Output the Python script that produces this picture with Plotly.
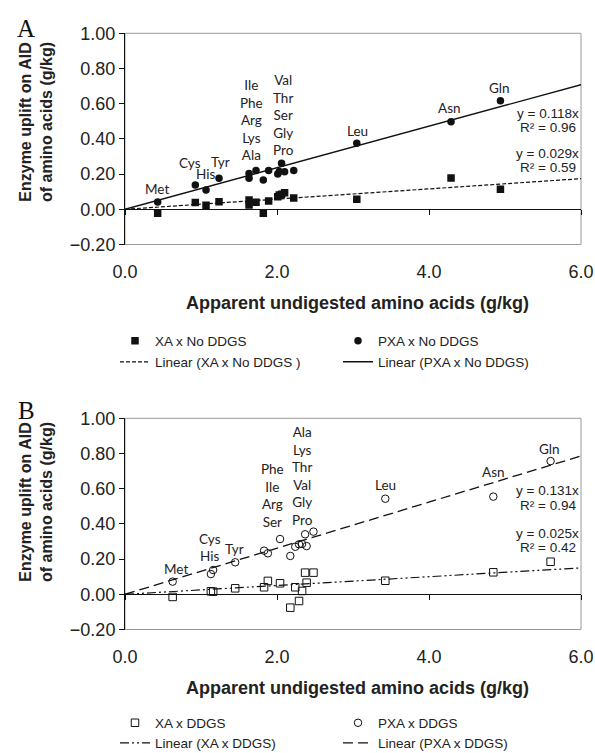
import plotly.graph_objects as go

# ---------------- DATA ----------------
# Panel A (No DDGS): apparent undigested amino acids (g/kg) and enzyme uplift (g/kg)
aa_x_A = [0.43, 0.925, 1.066, 1.237, 1.632, 1.632, 1.724, 1.82, 1.89, 2.01, 2.03, 2.06, 2.10, 2.22, 3.05, 4.29, 4.94]
xa_y_A = [-0.023, 0.038, 0.023, 0.043, 0.053, 0.024, 0.040, -0.023, 0.047, 0.072, 0.081, 0.085, 0.094, 0.064, 0.057, 0.178, 0.114]
pxa_y_A = [0.041, 0.138, 0.110, 0.176, 0.204, 0.176, 0.221, 0.166, 0.221, 0.200, 0.215, 0.261, 0.214, 0.221, 0.375, 0.498, 0.617]

# Panel B (DDGS)
aa_x_B = [0.627, 1.13, 1.16, 1.45, 1.83, 1.88, 2.04, 2.175, 2.24, 2.29, 2.33, 2.37, 2.39, 2.48, 3.425, 4.846, 5.60]
xa_y_B = [-0.015, 0.017, 0.015, 0.034, 0.040, 0.076, 0.0625, -0.076, 0.040, -0.038, 0.019, 0.123, 0.066, 0.123, 0.077, 0.125, 0.185]
pxa_y_B = [0.072, 0.115, 0.138, 0.182, 0.248, 0.233, 0.314, 0.218, 0.270, 0.284, 0.286, 0.341, 0.274, 0.356, 0.543, 0.555, 0.757]

# Linear trends through origin
slope_xa_A, r2_xa_A = 0.029, 0.59
slope_pxa_A, r2_pxa_A = 0.118, 0.96
slope_xa_B, r2_xa_B = 0.025, 0.42
slope_pxa_B, r2_pxa_B = 0.131, 0.94

# Point labels (amino acid names)
labels_A = ["Met", "Cys", "His", "Tyr", "Ile<br>Phe<br>Arg<br>Lys<br>Ala",
            "Val<br>Thr<br>Ser<br>Gly<br>Pro", "Leu", "Asn", "Gln"]
labels_B = ["Met", "Cys", "His", "Tyr", "Phe<br>Ile<br>Arg<br>Ser",
            "Ala<br>Lys<br>Thr<br>Val<br>Gly<br>Pro", "Leu", "Asn", "Gln"]

x_ticks = [0.0, 2.0, 4.0, 6.0]
y_ticks = [-0.2, 0.0, 0.2, 0.4, 0.6, 0.8, 1.0]
x_range = [0.0, 6.0]
y_range = [-0.2, 1.0]

# ---------------- LAYOUT (positions / styles) ----------------
W, H = 595, 753
PL, PR = 125, 581
A_TOP, A_BOT = 33.3, 244.5
B_TOP, B_BOT = 418.3, 629.5

# label anchor positions in data units (layout only)
lab_pos_A = [(0.417, 0.114), (0.855, 0.265), (1.057, 0.200), (1.259, 0.267), (1.658, 0.510),
             (2.083, 0.537), (3.053, 0.445), (4.276, 0.574), (4.925, 0.691)]
lab_pos_B = [(0.671, 0.144), (1.118, 0.316), (1.118, 0.219), (1.447, 0.257), (1.938, 0.560),
             (2.329, 0.670), (3.425, 0.619), (4.846, 0.697), (5.592, 0.824)]

def px(x):
    return x / W

def py(y):
    return 1 - y / H

def ydom(top, bot):
    return [py(bot), py(top)]

xdom = [px(PL), px(PR)]
ydA = ydom(A_TOP, A_BOT)
ydB = ydom(B_TOP, B_BOT)

def zero_pos(dom):
    return dom[0] + (0 - y_range[0]) / (y_range[1] - y_range[0]) * (dom[1] - dom[0])

BLACK = "#111111"
LABEL_FONT = dict(family="Lato, Carlito, Calibri, sans-serif", size=13.5, color="#222222")
EQ_FONT = dict(family="Liberation Sans, Arial, sans-serif", size=13.5, color="#222222")
TICK_FONT = dict(family="Liberation Sans, Arial, sans-serif", size=18, color="#222222")
TITLE_FONT = dict(family="Liberation Sans, Arial, sans-serif", size=18, color="#222222", weight="bold")
YTITLE_FONT = dict(family="Liberation Sans, Arial, sans-serif", size=16, color="#222222", weight="bold")
LEG_FONT = dict(family="Liberation Sans, Arial, sans-serif", size=13.5, color="#222222")

fig = go.Figure()

def trend(slope):
    return [slope * v for v in x_range]

# Panel A traces
fig.add_trace(go.Scatter(x=x_range, y=trend(slope_xa_A), mode="lines", name="Linear (XA x No DDGS )",
                         line=dict(color=BLACK, width=1.2, dash="4px,2px"), legend="legend2",
                         xaxis="x", yaxis="y", hoverinfo="skip"))
fig.add_trace(go.Scatter(x=x_range, y=trend(slope_pxa_A), mode="lines", name="Linear (PXA x No DDGS)",
                         line=dict(color=BLACK, width=1.4), legend="legend2",
                         xaxis="x", yaxis="y", hoverinfo="skip"))
fig.add_trace(go.Scatter(x=aa_x_A, y=xa_y_A, mode="markers", name="XA x No DDGS",
                         marker=dict(symbol="square", size=7.5, color=BLACK), legend="legend",
                         xaxis="x", yaxis="y"))
fig.add_trace(go.Scatter(x=aa_x_A, y=pxa_y_A, mode="markers", name="PXA x No DDGS",
                         marker=dict(symbol="circle", size=7.5, color=BLACK), legend="legend",
                         xaxis="x", yaxis="y"))

# Panel B traces
fig.add_trace(go.Scatter(x=x_range, y=trend(slope_xa_B), mode="lines", name="Linear (XA x DDGS)",
                         line=dict(color=BLACK, width=1.2, dash="9px,3px,2px,3px,2px,3px"), legend="legend4",
                         xaxis="x2", yaxis="y2", hoverinfo="skip"))
fig.add_trace(go.Scatter(x=x_range, y=trend(slope_pxa_B), mode="lines", name="Linear (PXA x DDGS)",
                         line=dict(color=BLACK, width=1.3, dash="10px,5px"), legend="legend4",
                         xaxis="x2", yaxis="y2", hoverinfo="skip"))
fig.add_trace(go.Scatter(x=aa_x_B, y=xa_y_B, mode="markers", name="XA x DDGS",
                         marker=dict(symbol="square-open", size=7.5, color=BLACK, line=dict(width=1)),
                         legend="legend3", xaxis="x2", yaxis="y2"))
fig.add_trace(go.Scatter(x=aa_x_B, y=pxa_y_B, mode="markers", name="PXA x DDGS",
                         marker=dict(symbol="circle-open", size=7.5, color=BLACK, line=dict(width=1)),
                         legend="legend3", xaxis="x2", yaxis="y2"))

# invisible traces to register zero-line axes
fig.add_trace(go.Scatter(x=[], y=[], xaxis="x3", yaxis="y", showlegend=False))
fig.add_trace(go.Scatter(x=[], y=[], xaxis="x4", yaxis="y2", showlegend=False))

xa_common = dict(range=x_range, domain=xdom, showgrid=False, zeroline=False, showline=False,
                 ticks="", tickvals=x_ticks, tickformat=".1f", tickfont=TICK_FONT,
                 ticklabelstandoff=14, fixedrange=True, automargin=False)
ya_common = dict(range=y_range, showgrid=False, zeroline=False, showline=True, linecolor=BLACK,
                 linewidth=1, ticks="outside", ticklen=5, tickcolor=BLACK, tickvals=y_ticks,
                 tickformat=".2f", tickfont=TICK_FONT, fixedrange=True, automargin=False)
zero_common = dict(range=x_range, showgrid=False, zeroline=False, showline=True, linecolor=BLACK,
                   linewidth=1, ticks="outside", ticklen=5, tickcolor=BLACK, tickvals=x_ticks,
                   showticklabels=False, anchor="free", side="bottom", fixedrange=True, automargin=False)

annotations = []
for txt, (lx, ly) in zip(labels_A, lab_pos_A):
    annotations.append(dict(x=lx, y=ly, xref="x", yref="y", text=txt, showarrow=False,
                            font=LABEL_FONT, xanchor="center", yanchor="middle"))
for txt, (lx, ly) in zip(labels_B, lab_pos_B):
    annotations.append(dict(x=lx, y=ly, xref="x2", yref="y2", text=txt, showarrow=False,
                            font=LABEL_FONT, xanchor="center", yanchor="middle"))

# equations (layout positions in data units)
eq_specs = [
    ("x", "y", f"y = {slope_pxa_A:.3f}x", 5.563, 0.545),
    ("x", "y", f"R² = {r2_pxa_A:.2f}", 5.563, 0.462),
    ("x", "y", f"y = {slope_xa_A:.3f}x", 5.563, 0.318),
    ("x", "y", f"R² = {r2_xa_A:.2f}", 5.563, 0.237),
    ("x2", "y2", f"y = {slope_pxa_B:.3f}x", 5.563, 0.590),
    ("x2", "y2", f"R² = {r2_pxa_B:.2f}", 5.563, 0.506),
    ("x2", "y2", f"y = {slope_xa_B:.3f}x", 5.563, 0.347),
    ("x2", "y2", f"R² = {r2_xa_B:.2f}", 5.563, 0.265),
]
for xr, yr, txt, ex, ey in eq_specs:
    annotations.append(dict(x=ex, y=ey, xref=xr, yref=yr, text=txt, showarrow=False,
                            font=EQ_FONT, xanchor="center", yanchor="middle"))

# panel letters
annotations.append(dict(x=px(26), y=py(29), xref="paper", yref="paper", text="A", showarrow=False,
                        font=dict(family="Liberation Serif, Times New Roman, serif", size=25, color="#111111"),
                        xanchor="center", yanchor="middle"))
annotations.append(dict(x=px(26), y=py(411), xref="paper", yref="paper", text="B", showarrow=False,
                        font=dict(family="Liberation Serif, Times New Roman, serif", size=25, color="#111111"),
                        xanchor="center", yanchor="middle"))

# axis titles
XT = "Apparent undigested amino acids (g/kg)"
YT = "Enzyme uplift on AID<br>of amino acids (g/kg)"
for yc in (303, 688):
    annotations.append(dict(x=px(357), y=py(yc), xref="paper", yref="paper", text=XT, showarrow=False,
                            font=TITLE_FONT, xanchor="center", yanchor="middle"))
for yc in (122, 502):
    annotations.append(dict(x=px(36), y=py(yc), xref="paper", yref="paper", text=YT, showarrow=False,
                            font=YTITLE_FONT, textangle=-90, xanchor="center", yanchor="middle"))

shapes = [
    dict(type="rect", xref="x domain", yref="y domain", x0=0, x1=1, y0=0, y1=1,
         line=dict(color="#9a9a9a", width=1), layer="below"),
    dict(type="rect", xref="x2 domain", yref="y2 domain", x0=0, x1=1, y0=0, y1=1,
         line=dict(color="#9a9a9a", width=1), layer="below"),
]

def legend_cfg(row_y):
    return dict(orientation="h", x=px(115), xanchor="left", y=py(row_y), yanchor="middle",
                entrywidth=178, font=LEG_FONT, bgcolor="rgba(0,0,0,0)", borderwidth=0,
                itemwidth=30, traceorder="normal", itemclick=False, itemdoubleclick=False)

fig.update_layout(
    width=W, height=H, margin=dict(l=0, r=0, t=0, b=0, pad=0, autoexpand=False),
    paper_bgcolor="white", plot_bgcolor="white",
    xaxis=dict(**xa_common, anchor="y"),
    yaxis=dict(**ya_common, domain=ydA, anchor="x"),
    xaxis2=dict(**xa_common, anchor="y2"),
    yaxis2=dict(**ya_common, domain=ydB, anchor="x2"),
    xaxis3=dict(**zero_common, overlaying="x", position=zero_pos(ydA), domain=xdom),
    xaxis4=dict(**zero_common, overlaying="x2", position=zero_pos(ydB), domain=xdom),
    legend=legend_cfg(341),
    legend2=legend_cfg(362),
    legend3=legend_cfg(723),
    legend4=legend_cfg(743),
    annotations=annotations,
    shapes=shapes,
    showlegend=True,
    hovermode=False,
)

fig.write_html("out.html", config={"displayModeBar": False},
               post_script="document.body.style.margin='0';document.body.style.overflow='hidden';")
